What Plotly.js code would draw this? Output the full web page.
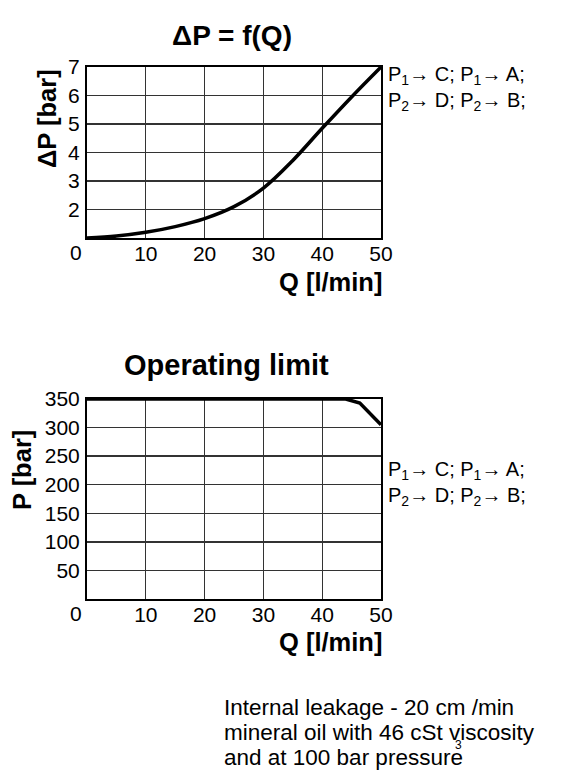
<!DOCTYPE html>
<html><head><meta charset="utf-8">
<script src="https://cdn.plot.ly/plotly-3.0.1.min.js"></script>
<style>html,body{margin:0;padding:0;background:#fff}</style>
</head><body>
<div id="chart" style="width:572px;height:773px"></div>
<script>
// Top chart: pressure drop vs flow
const qFlow = [0, 5, 10, 15, 20, 25, 30, 35, 40, 45, 50];
const deltaP = [1.0, 1.07, 1.2, 1.4, 1.68, 2.1, 2.75, 3.72, 4.85, 5.95, 7.0];
// Bottom chart: operating limit
const qLimit = [0, 44, 46.4, 50];
const pLimit = [350, 350, 343, 305];
// Ticks
const xTicks = [10, 20, 30, 40, 50];
const dpTicks = [2, 3, 4, 5, 6, 7];
const pTicks = [50, 100, 150, 200, 250, 300, 350];
// Footnote lines
const noteLines = ['Internal leakage - 20 cm /min', 'mineral oil with 46 cSt viscosity', 'and at 100 bar pressure'];

const W = 572, H = 773;
const fx = px => px / W;
const fy = py => 1 - py / H;
const FONT = 'Liberation Sans, Arial, sans-serif';

const axisCommon = {
  showline: true, mirror: true, linecolor: '#000', linewidth: 2,
  showgrid: true, gridcolor: '#333', gridwidth: 1.3,
  zeroline: false, ticks: '', tickfont: {family: FONT, size: 21, color: '#000'},
  fixedrange: true
};

const traces = [
  {x: qFlow, y: deltaP, xaxis: 'x', yaxis: 'y', mode: 'lines',
   line: {color: '#000', width: 3.5, shape: 'spline', smoothing: 1}, hoverinfo: 'none'},
  {x: qLimit, y: pLimit, xaxis: 'x2', yaxis: 'y2', mode: 'lines',
   line: {color: '#000', width: 3.5}, hoverinfo: 'none'}
];

const legendText = 'P<sub>1</sub>\u2192 C; P<sub>1</sub>\u2192 A;<br>P<sub>2</sub>\u2192 D; P<sub>2</sub>\u2192 B;';

const ann = (text, x, y, opts) => Object.assign({
  text, x: fx(x), y: fy(y), xref: 'paper', yref: 'paper', showarrow: false,
  xanchor: 'center', yanchor: 'middle',
  font: {family: FONT, size: 21, color: '#000'}
}, opts || {});
const f = (size) => ({family: FONT, size, color: '#000'});

const annotations = [
  ann('<b>\u0394P = f(Q)</b>', 232, 35, {font: f(28)}),
  ann('<b>Operating limit</b>', 226, 365, {font: f(29)}),
  ann('<b>Q [l/min]</b>', 384, 282, {xanchor: 'right', font: f(25.5)}),
  ann('<b>Q [l/min]</b>', 384, 642, {xanchor: 'right', font: f(25.5)}),
  ann('<b>\u0394P [bar]</b>', 47, 118, {textangle: -90, font: f(25.5)}),
  ann('<b>P [bar]</b>', 22, 470, {textangle: -90, font: f(25.5)}),
  ann('0', 76, 253),
  ann('0', 76, 613),
  ann(legendText, 386, 89, {xanchor: 'left', align: 'left', font: f(20)}),
  ann(legendText, 386, 483, {xanchor: 'left', align: 'left', font: f(20)}),
  ann('3', 458, 745, {font: f(12)})
];
const noteY = [707, 732, 757];
noteLines.forEach((t, i) => annotations.push(ann(t, 222, noteY[i], {xanchor: 'left', font: f(22.5)})));

const layout = {
  width: W, height: H, margin: {l: 0, r: 0, t: 0, b: 0},
  paper_bgcolor: '#fff', plot_bgcolor: '#fff', showlegend: false,
  xaxis: Object.assign({}, axisCommon, {domain: [fx(87), fx(381)], range: [0, 50],
    tickvals: xTicks, anchor: 'y', ticklabelstandoff: -4}),
  yaxis: Object.assign({}, axisCommon, {domain: [fy(238), fy(67)], range: [1, 7],
    tickvals: dpTicks, anchor: 'x', ticklabelstandoff: 1}),
  xaxis2: Object.assign({}, axisCommon, {domain: [fx(87), fx(381)], range: [0, 50],
    tickvals: xTicks, anchor: 'y2', ticklabelstandoff: -4}),
  yaxis2: Object.assign({}, axisCommon, {domain: [fy(599), fy(399)], range: [0, 350],
    tickvals: pTicks, anchor: 'x2', ticklabelstandoff: 1}),
  annotations
};

Plotly.newPlot('chart', traces, layout, {displayModeBar: false, staticPlot: true});
</script>
</body></html>
